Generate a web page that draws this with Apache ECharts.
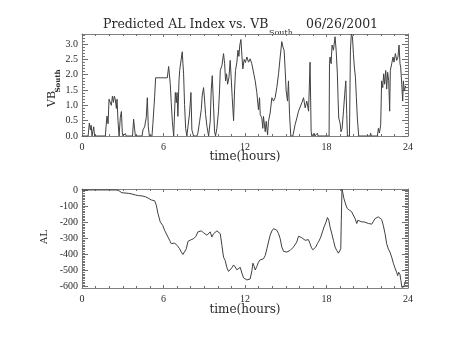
<!DOCTYPE html>
<html><head><meta charset="utf-8">
<script src="https://cdn.jsdelivr.net/npm/echarts@6/dist/echarts.min.js"></script>
<style>html,body{margin:0;padding:0;background:#fff}#c{width:454px;height:341px}</style>
</head><body><div id="c"></div>
<script>
// ---------- data ----------
const vbHours = [0,0.12,0.20,0.45,0.54,0.62,0.67,0.74,0.82,0.86,0.93,1.72,1.77,1.84,1.92,1.99,2.09,2.16,2.24,2.31,2.38,2.45,2.53,2.58,2.65,2.73,2.82,2.90,2.97,3.02,3.19,3.26,3.72,3.80,3.88,3.93,4.42,4.49,4.61,4.73,4.81,4.88,4.96,5.15,5.22,5.35,5.42,6.28,6.38,6.50,6.57,6.65,6.75,6.87,6.94,7.00,7.06,7.14,7.19,7.29,7.38,7.43,7.48,7.55,7.63,7.72,7.80,7.92,8.02,8.09,8.17,8.21,8.46,8.53,8.66,8.78,8.85,8.95,9.03,9.10,9.20,9.32,9.44,9.51,9.59,9.69,9.76,9.83,9.93,10.05,10.13,10.18,10.30,10.42,10.50,10.57,10.64,10.72,10.82,10.91,10.98,11.06,11.16,11.23,11.30,11.40,11.48,11.55,11.62,11.70,11.77,11.84,11.94,12.03,12.14,12.26,12.38,12.50,12.63,12.75,12.87,12.99,13.07,13.12,13.24,13.31,13.36,13.49,13.56,13.66,13.73,13.85,13.98,14.10,14.22,14.34,14.47,14.59,14.71,14.79,14.88,14.96,15.03,15.13,15.20,15.28,15.37,15.52,15.69,15.82,15.94,16.07,16.19,16.31,16.43,16.55,16.68,16.79,16.87,16.92,17.05,17.09,17.14,17.28,17.33,17.38,18.19,18.22,18.26,18.34,18.41,18.51,18.63,18.71,18.80,18.85,18.90,19.00,19.07,19.15,19.25,19.34,19.42,19.49,19.54,19.69,19.76,19.83,19.91,19.98,20.05,20.13,20.20,20.27,20.37,21.20,21.25,21.30,21.75,21.82,21.90,21.99,22.06,22.14,22.21,22.28,22.36,22.43,22.50,22.58,22.65,22.70,22.80,22.90,22.97,23.07,23.17,23.26,23.34,23.41,23.46,23.54,23.61,23.66,23.73,23.83];
const vbValues = [0,0.05,0,0,0.42,0.2,0.35,0,0,0.3,0,0,0.3,0.65,0.4,1.2,1.25,1.0,1.3,1.1,1.3,1.2,0.9,1.2,0.5,0,0.6,0.8,0.1,0,0.08,0,0,0.55,0.2,0,0,0.2,0.3,0.6,1.25,0.3,0,0,0.4,1.3,1.9,1.9,2.27,1.69,1.09,0.48,0,1.42,1.09,1.42,0.64,1.8,2.14,2.19,2.75,2.36,2.03,1.03,0.25,0,0,0.75,1.42,0.2,0.25,0,0,0.09,0.48,0.86,1.31,1.58,1.14,0.7,0.31,0,0.48,1.47,1.97,0.92,0.14,0,0.25,0.81,1.53,2.14,2.3,2.69,2.36,1.8,2.03,1.69,1.92,2.47,1.92,1.25,0.5,1.47,2.14,2.4,2.8,2.6,2.97,3.15,2.64,2.19,2.5,2.4,2.58,2.41,2.52,2.36,2.3,1.8,1.42,0.86,1.25,0.7,0.59,0.25,0.64,0.14,0.48,0.03,0.48,0.75,1.25,1.14,1.25,1.58,2.03,2.58,3.08,2.91,2.8,2.14,1.47,1.14,1.8,0.7,0,0,0.37,0.59,0.81,0.75,1.09,1.25,0.92,1.14,0.81,2.41,0.14,0,0,0.09,0,0,0.09,0,0,2.36,2.58,2.36,2.97,2.8,3.24,2.8,2.03,1.25,0.59,0.42,0.14,0.25,0.81,1.36,1.8,0.7,0,0,2.8,3.33,3.24,2.69,2.25,1.92,1.25,0.59,0,0,0.09,0,0,0.25,0.1,0.37,1.8,1.58,2.03,1.69,2.14,1.53,2.08,1.8,0.81,2.14,2.36,2.58,2.41,2.69,2.47,2.58,2.97,2.36,2.25,1.69,1.14,1.8,1.47,1.64];

const alHours = [0,2.50,2.70,2.94,3.07,3.44,3.68,3.93,4.17,4.42,4.66,4.91,5.10,5.35,5.47,5.59,5.76,5.94,6.08,6.18,6.33,6.45,6.57,6.70,6.82,6.94,7.06,7.19,7.31,7.43,7.55,7.68,7.80,7.92,8.04,8.22,8.39,8.53,8.66,8.78,8.95,9.07,9.20,9.32,9.44,9.56,9.69,9.81,9.93,10.05,10.18,10.30,10.42,10.54,10.67,10.79,10.91,11.03,11.16,11.28,11.40,11.52,11.65,11.77,11.89,12.01,12.14,12.26,12.38,12.51,12.58,12.68,12.75,12.87,12.99,13.12,13.36,13.49,13.61,13.73,13.85,13.98,14.10,14.22,14.34,14.47,14.59,14.71,14.84,14.96,15.08,15.20,15.32,15.45,15.57,15.69,15.81,15.94,16.06,16.18,16.30,16.43,16.55,16.67,16.79,16.87,16.99,17.09,17.21,17.33,17.45,17.58,17.70,17.82,17.97,18.07,18.17,18.26,18.39,18.51,18.63,18.75,18.88,19.00,19.05,19.09,19.14,19.21,19.28,19.36,19.43,19.53,19.68,19.85,19.98,20.10,20.23,20.30,20.43,20.60,20.77,20.91,21.09,21.21,21.33,21.45,21.58,21.70,21.82,21.94,22.06,22.18,22.31,22.43,22.55,22.67,22.80,22.92,23.04,23.16,23.24,23.31,23.41,23.48,23.55,23.63,23.70,23.77,23.84];
const alValues = [0,0,-4,-17,-21,-21,-25,-31,-35,-37,-42,-52,-62,-67,-94,-146,-198,-219,-250,-260,-292,-312,-333,-323,-329,-337,-350,-365,-385,-400,-396,-365,-319,-312,-308,-302,-287,-260,-250,-254,-265,-275,-281,-271,-260,-292,-271,-260,-254,-250,-271,-344,-417,-437,-483,-505,-505,-483,-465,-478,-495,-500,-480,-515,-545,-537,-558,-556,-552,-500,-454,-475,-496,-475,-448,-433,-427,-406,-365,-323,-281,-254,-240,-235,-250,-271,-302,-354,-381,-385,-385,-379,-375,-365,-354,-344,-323,-287,-287,-296,-302,-312,-306,-308,-333,-354,-371,-365,-354,-333,-316,-292,-260,-229,-198,-171,-188,-229,-271,-312,-354,-375,-392,-385,-365,-188,5,-21,-52,-42,-94,-115,-125,-135,-146,-177,-208,-188,-192,-198,-198,-208,-208,-204,-212,-208,-177,-171,-167,-171,-183,-219,-271,-333,-365,-385,-417,-454,-483,-510,-531,-510,-525,-562,-604,-608,-600,-573,-562];

const xTickValues = [0, 6, 12, 18, 24];
const vbTickValues = [0, 0.5, 1.0, 1.5, 2.0, 2.5, 3.0];
const alTickValues = [-600, -500, -400, -300, -200, -100, 0];
const titleMain = 'Predicted AL Index vs. VB';
const titleSub = 'South';
const titleDate = '06/26/2001';
const xName = 'time(hours)';
const vbName = 'VB';
const vbSub = 'South';
const alName = 'AL';

// ---------- chart ----------
const FRAME = '#808080', TICK = '#707070', LINE = '#404040', TEXT = '#2a2a2a';
const range = (a, b, s) => { const r = []; for (let v = a; v <= b + 1e-9; v += s) r.push(+v.toFixed(4)); return r; };
const xMinor = range(0, 24, 1);
const vbMinor = range(0, 3.3, 0.1);
const alMinor = range(-600, 0, 10);

const rects = [
  {left: 82, top: 34, width: 326, height: 102},
  {left: 82, top: 189, width: 326, height: 99}
];
const yRanges = [[0, 3.33], [-608, 6]];
const yMajors = [vbTickValues, alTickValues];
const yMinors = [vbMinor, alMinor];
const yFmt = [v => v.toFixed(1), v => String(v)];

// grid 2p = majors (with series), grid 2p+1 = minors (same rectangle)
const grids = [], xAxes = [], yAxes = [];
function mk(gi, pos, ticks, len, showLine, labels, min, max, fmt, margin) {
  return {
    type: 'value', gridIndex: gi, position: pos, min: min, max: max,
    axisLine: {show: showLine, onZero: false, lineStyle: {color: FRAME, width: 1}},
    axisTick: {show: true, inside: true, length: len, customValues: ticks, lineStyle: {color: TICK, width: 1}},
    axisLabel: labels ? {show: true, customValues: labels, margin: margin, color: TEXT,
      fontFamily: 'Liberation Serif', fontSize: 10, formatter: fmt} : {show: false},
    splitLine: {show: false}
  };
}
for (let p = 0; p < 2; p++) {
  const [mn, mx] = yRanges[p];
  const gMaj = 2 * p, gMin = 2 * p + 1;
  grids.push(Object.assign({}, rects[p]), Object.assign({}, rects[p]));
  xAxes.push(mk(gMaj, 'bottom', xTickValues, 3, true, xTickValues, 0, 24, v => String(v), 6));
  xAxes.push(mk(gMaj, 'top', xTickValues, 3, true, null, 0, 24));
  xAxes.push(mk(gMin, 'bottom', xMinor, 2, false, null, 0, 24));
  xAxes.push(mk(gMin, 'top', xMinor, 2, false, null, 0, 24));
  yAxes.push(mk(gMaj, 'left', yMajors[p], 6, true, yMajors[p], mn, mx, yFmt[p], 4));
  yAxes.push(mk(gMaj, 'right', yMajors[p], 6, true, null, mn, mx));
  yAxes.push(mk(gMin, 'left', yMinors[p], 3, false, null, mn, mx));
  yAxes.push(mk(gMin, 'right', yMinors[p], 3, false, null, mn, mx));
}

const serif = 'DejaVu Serif';
const txt = (text, x, y, size, rot, align) => ({
  type: 'text', x: x, y: y, rotation: rot || 0, silent: true,
  style: {text: text, fill: TEXT, font: size + 'px "' + serif + '"', textAlign: align || 'left', textVerticalAlign: 'middle'}
});

const series = [
  {type: 'line', xAxisIndex: 0, yAxisIndex: 0, showSymbol: false, silent: true,
   lineStyle: {color: LINE, width: 1}, data: vbHours.map((h, i) => [h, vbValues[i]])},
  {type: 'line', xAxisIndex: 4, yAxisIndex: 4, showSymbol: false, silent: true,
   lineStyle: {color: LINE, width: 1}, data: alHours.map((h, i) => [h, alValues[i]])}
];
// empty helper series so that every axis (incl. the minor-tick ones) is drawn
for (let a = 0; a < 8; a++) {
  if (a === 0 || a === 4) continue;
  series.push({type: 'line', xAxisIndex: a, yAxisIndex: a, data: [], silent: true, showSymbol: false});
}

const chart = echarts.init(document.getElementById('c'), null, {renderer: 'canvas'});
chart.setOption({
  animation: false,
  backgroundColor: '#fff',
  grid: grids,
  xAxis: xAxes,
  yAxis: yAxes,
  series: series,
  graphic: [
    txt(titleMain, 103, 25, 12.5),
    txt(titleSub, 269, 33, 8),
    txt(titleDate, 306, 25, 12.5),
    txt(xName, 245, 157, 12, 0, 'center'),
    txt(xName, 245, 310, 12, 0, 'center'),
    txt(vbName, 52, 99, 11, Math.PI / 2, 'center'),
    txt(vbSub, 58, 81, 'bold 7', Math.PI / 2, 'center'),
    txt(alName, 44, 237, 10, Math.PI / 2, 'center')
  ]
});
</script>
</body></html>
